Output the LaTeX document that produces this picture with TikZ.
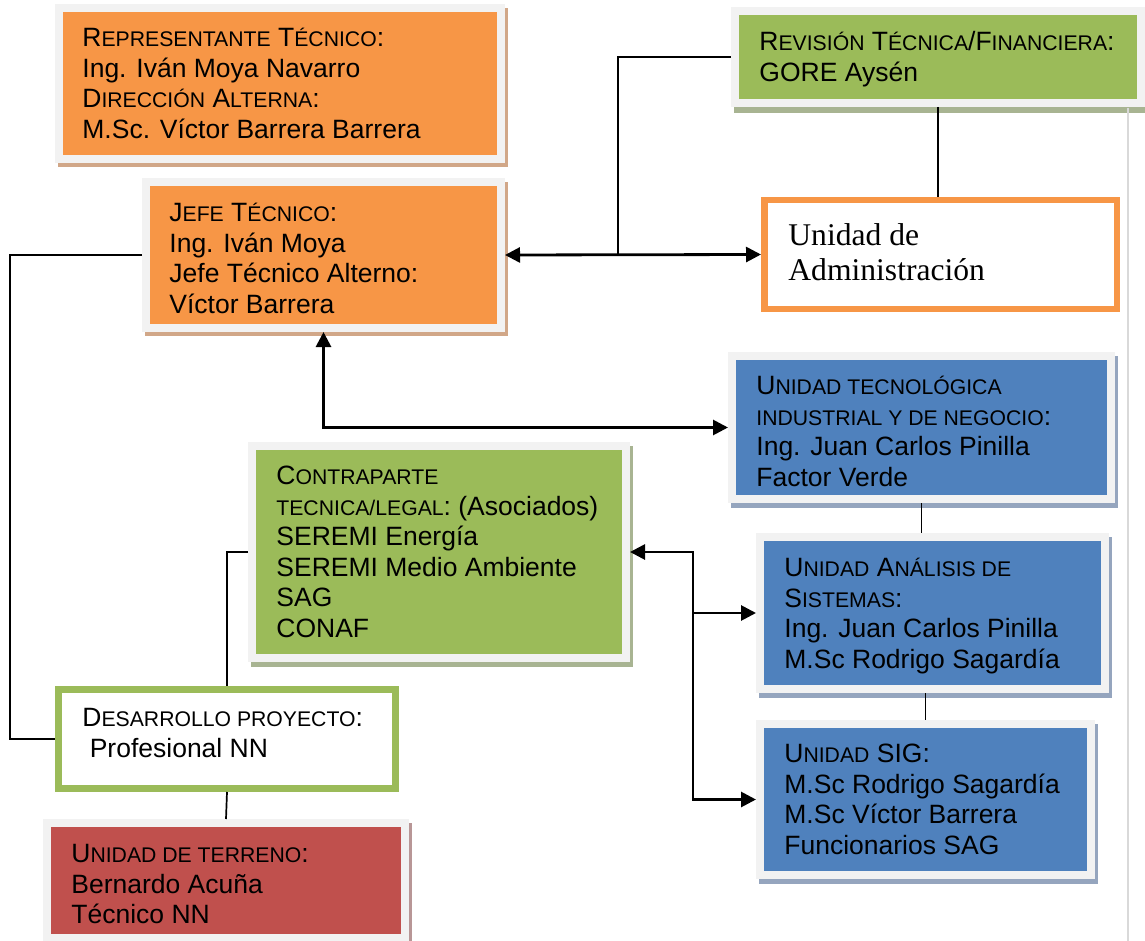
\documentclass[tikz,border=0pt]{standalone}
\usepackage{fontspec}
\setmainfont{Liberation Sans}
\newfontfamily\timesf{Liberation Serif}
\usetikzlibrary{arrows.meta,calc,backgrounds}
\definecolor{orng}{HTML}{F79646}
\definecolor{grn}{HTML}{9BBB59}
\definecolor{blu}{HTML}{4F81BD}
\definecolor{redc}{HTML}{C0504D}
\definecolor{framegray}{HTML}{F2F2F2}
\definecolor{shO}{HTML}{D1A788}
\definecolor{shG}{HTML}{A8B492}
\definecolor{shB}{HTML}{95A5BE}
\definecolor{shR}{HTML}{B89696}
\definecolor{pagegray}{HTML}{D9D9D9}
\newcommand\smc[1]{{\fontsize{10.6}{15.25}\selectfont #1}}
\begin{document}
\begin{tikzpicture}[x=0.5pt,y=-0.5pt,
  box/.style={draw=framegray, line width=4pt, inner sep=0pt},
  txt/.style={anchor=north west, inner sep=0pt, align=left, font=\fontsize{13.25}{15.25}\selectfont},
  thinline/.style={line width=0.85pt},
  arr/.style={line width=1.4pt},
  >={Triangle[length=7.5pt,width=7.5pt]}]
\useasboundingbox (0,0) rectangle (1145,941);

% boxes
\node[box, fill=orng, minimum width=221pt, minimum height=75.5pt] (rep) at (280,83.5) {};
\node[box, fill=orng, minimum width=177.5pt, minimum height=73pt] (jefe) at (323.5,255) {};
\node[box, fill=grn, minimum width=203pt, minimum height=46pt] (rev) at (938,57) {};
\node[draw=orng, line width=3.25pt, fill=white, inner sep=0pt, minimum width=176.25pt, minimum height=54.25pt] (admin) at (940.5,254.5) {};
\node[box, fill=blu, minimum width=189.5pt, minimum height=71.5pt] (tec) at (921.5,427.5) {};
\node[box, fill=grn, minimum width=187pt, minimum height=106pt] (contra) at (439,552) {};
\node[box, fill=blu, minimum width=172.5pt, minimum height=76pt] (anal) at (932.5,613) {};
\node[box, fill=blu, minimum width=165.5pt, minimum height=75.5pt] (sig) at (925.5,799.5) {};
\node[draw=grn, line width=3.5pt, fill=white, inner sep=0pt, minimum width=168.5pt, minimum height=49.5pt] (desa) at (227,739) {};
\node[box, fill=redc, minimum width=179pt, minimum height=57.5pt] (terr) at (226,880.5) {};

% texts
\node[txt] (rep-t) at (82,25.1) {\strut R\smc{EPRESENTANTE} T\smc{ÉCNICO}:\\Ing. Iván Moya Navarro\\D\smc{IRECCIÓN} A\smc{LTERNA}:\\M.Sc. Víctor Barrera Barrera};
\node[txt] (jefe-t) at (169,200.1) {\strut J\smc{EFE} T\smc{ÉCNICO}:\\Ing. Iván Moya\\Jefe Técnico Alterno:\\Víctor Barrera};
\node[txt] (rev-t) at (759,29.1) {\strut R\smc{EVISIÓN} T\smc{ÉCNICA}/F\smc{INANCIERA}:\\GORE Aysén};
\node[anchor=north west, inner sep=0pt, align=left, font=\timesf\fontsize{15.8}{17.5}\selectfont] (admin-t) at (788,221) {\strut Unidad de\\Administración};
\node[txt] (tec-t) at (756,373.1) {\strut U\smc{NIDAD TECNOLÓGICA}\\\smc{INDUSTRIAL Y DE NEGOCIO}:\\Ing. Juan Carlos Pinilla\\Factor Verde};
\node[txt] (contra-t) at (276,463.1) {\strut C\smc{ONTRAPARTE}\\\smc{TECNICA/LEGAL}: (Asociados)\\SEREMI Energía\\SEREMI Medio Ambiente\\SAG\\CONAF};
\node[txt] (anal-t) at (784,555.1) {\strut U\smc{NIDAD} A\smc{NÁLISIS DE}\\S\smc{ISTEMAS}:\\Ing. Juan Carlos Pinilla\\M.Sc Rodrigo Sagardía};
\node[txt] (sig-t) at (784,741.1) {\strut U\smc{NIDAD} SIG:\\M.Sc Rodrigo Sagardía\\M.Sc Víctor Barrera\\Funcionarios SAG};
\node[txt] (desa-t) at (82,705.1) {\strut D\smc{ESARROLLO PROYECTO}:\\\hspace*{3.7pt}Profesional NN};
\node[txt] (terr-t) at (71,841.1) {\strut U\smc{NIDAD DE TERRENO}:\\Bernardo Acuña\\Técnico NN};

% connectors
\draw[arr,<->] (jefe.east) -- (admin.west);
\coordinate (j1) at (618,255);
\draw[thinline] (j1) |- (rev.west);
\draw[thinline] (rev.south) -- (rev.south |- admin.north);
\draw[arr,<->] (jefe.south) |- (tec.west);
\draw[thinline] (jefe.west) -- ++(-132,0) |- (desa.west);
\coordinate (trunk) at (693,552);
\draw[arr,<->] (contra.east) -- (trunk) |- (sig.west);
\draw[arr,->] (trunk |- anal.west) -- (anal.west);
\draw[thinline] (contra.west) -| (desa.north);
\draw[thinline] (desa.south) -- (terr.north);
\draw[thinline] (tec.south) -- (tec.south |- anal.north);
\draw[thinline] (sig.north |- anal.south) -- (sig.north);

% page edge line
\draw[pagegray, line width=0.75pt] (1128,108) -- (1128,941);

% background and shadows
\begin{scope}[on background layer]
\fill[white] (0,0) rectangle (1145,941);
\fill[shO] ($(rep.north west)+(3,4)$) rectangle ($(rep.south east)+(3,4)$);
\fill[shO] ($(jefe.north west)+(3,4)$) rectangle ($(jefe.south east)+(3,4)$);
\fill[shG] ($(rev.north west)+(3,5)$) rectangle ($(rev.south east)+(3,6)$);
\fill[shB] ($(tec.north west)+(3,4)$) rectangle ($(tec.south east)+(3,5)$);
\fill[shG] ($(contra.north west)+(3,4)$) rectangle ($(contra.south east)+(3,5)$);
\fill[shB] ($(anal.north west)+(3,4)$) rectangle ($(anal.south east)+(3,5)$);
\fill[shB] ($(sig.north west)+(3,4)$) rectangle ($(sig.south east)+(3,5)$);
\fill[shR] ($(terr.north west)+(3,4)$) rectangle ($(terr.south east)+(3,4)$);
\end{scope}
\end{tikzpicture}
\end{document}
